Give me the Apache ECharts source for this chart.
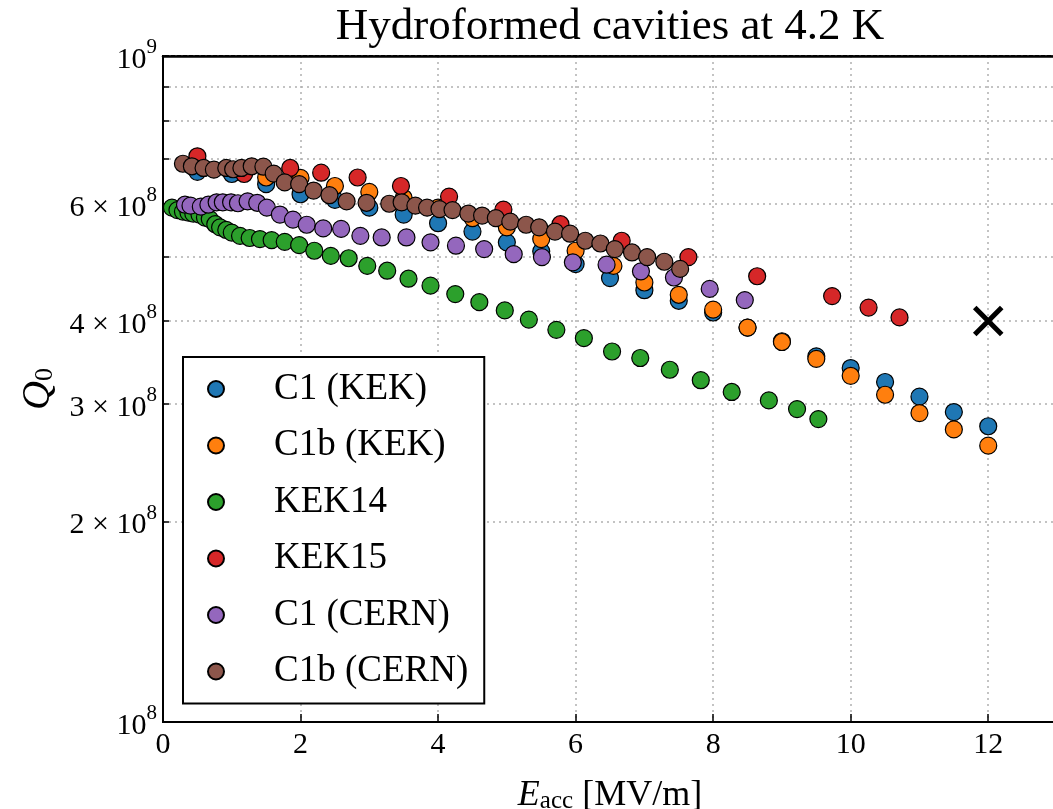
<!DOCTYPE html>
<html>
<head>
<meta charset="utf-8">
<script src="https://cdn.jsdelivr.net/npm/echarts@6/dist/echarts.min.js"></script>
<style>
  html, body { margin: 0; padding: 0; background: #fff; }
  #chart { width: 1053px; height: 809px; }
</style>
</head>
<body>
<div id="chart"></div>
<script>
// Q0 values are given in units of 1e8.
const c1KekE  = [0.5, 1.0, 1.5, 2.0, 2.5, 3.0, 3.5, 4.0, 4.5, 5.0, 5.5, 6.0, 6.5, 7.0, 7.5, 8.0, 8.5, 9.0, 9.5, 10.0, 10.5, 11.0, 11.5, 12.0];
const c1KekQ  = [6.70, 6.65, 6.42, 6.20, 6.08, 5.92, 5.78, 5.61, 5.45, 5.25, 5.09, 4.87, 4.64, 4.45, 4.29, 4.12, 3.91, 3.73, 3.54, 3.40, 3.24, 3.08, 2.92, 2.78];

const c1bKekE = [1.5, 2.0, 2.5, 3.0, 3.5, 4.0, 4.5, 5.0, 5.5, 6.0, 6.55, 7.0, 7.5, 8.0, 8.5, 9.0, 9.5, 10.0, 10.5, 11.0, 11.5, 12.0];
const c1bKekQ = [6.57, 6.56, 6.38, 6.25, 6.12, 5.92, 5.71, 5.53, 5.31, 5.10, 4.84, 4.57, 4.38, 4.16, 3.91, 3.72, 3.51, 3.31, 3.10, 2.91, 2.75, 2.60];

const kek14E  = [0.13, 0.21, 0.29, 0.37, 0.44, 0.53, 0.61, 0.68, 0.76, 0.83, 0.92, 1.00, 1.12, 1.26, 1.41, 1.58, 1.77, 1.98, 2.20, 2.44, 2.70, 2.97, 3.26, 3.57, 3.89, 4.25, 4.60, 4.97, 5.32, 5.72, 6.12, 6.53, 6.94, 7.37, 7.82, 8.27, 8.81, 9.22, 9.53];
const kek14Q  = [5.92, 5.87, 5.84, 5.82, 5.80, 5.78, 5.72, 5.69, 5.59, 5.53, 5.48, 5.43, 5.37, 5.33, 5.31, 5.29, 5.26, 5.20, 5.10, 5.01, 4.97, 4.84, 4.76, 4.63, 4.52, 4.39, 4.27, 4.15, 4.02, 3.88, 3.77, 3.60, 3.52, 3.38, 3.26, 3.13, 3.04, 2.95, 2.85];

const kek15E  = [0.50, 1.18, 1.85, 2.30, 2.83, 3.46, 4.16, 4.95, 5.78, 6.67, 7.64, 8.64, 9.73, 10.26, 10.71];
const kek15Q  = [7.07, 6.65, 6.79, 6.68, 6.57, 6.38, 6.15, 5.88, 5.59, 5.28, 4.99, 4.67, 4.36, 4.19, 4.05];

const c1CernE = [0.32, 0.40, 0.55, 0.66, 0.78, 0.87, 0.99, 1.09, 1.23, 1.37, 1.51, 1.70, 1.89, 2.09, 2.33, 2.59, 2.87, 3.18, 3.54, 3.89, 4.26, 4.67, 5.10, 5.51, 5.96, 6.45, 6.95, 7.43, 7.95, 8.46];
const c1CernQ = [5.98, 5.96, 5.94, 5.98, 6.03, 6.03, 6.03, 6.01, 6.05, 6.02, 5.92, 5.78, 5.68, 5.58, 5.51, 5.50, 5.37, 5.34, 5.34, 5.25, 5.19, 5.13, 5.04, 4.99, 4.90, 4.86, 4.75, 4.65, 4.47, 4.30];

const c1bCernE = [0.29, 0.42, 0.59, 0.74, 0.92, 1.02, 1.14, 1.29, 1.46, 1.61, 1.77, 1.98, 2.19, 2.42, 2.67, 2.96, 3.29, 3.47, 3.67, 3.84, 4.02, 4.21, 4.44, 4.64, 4.84, 5.05, 5.28, 5.47, 5.70, 5.92, 6.14, 6.36, 6.57, 6.82, 7.04, 7.29, 7.52];
const c1bCernQ = [6.89, 6.83, 6.79, 6.75, 6.79, 6.76, 6.79, 6.83, 6.82, 6.66, 6.46, 6.42, 6.28, 6.18, 6.05, 6.02, 6.00, 6.03, 5.96, 5.92, 5.89, 5.87, 5.80, 5.76, 5.71, 5.64, 5.58, 5.53, 5.45, 5.41, 5.28, 5.23, 5.13, 5.07, 4.99, 4.91, 4.79];

// Design target point (black cross)
const targetE = [12];
const targetQ = [4.0];

const seriesNames  = ['C1 (KEK)', 'C1b (KEK)', 'KEK14', 'KEK15', 'C1 (CERN)', 'C1b (CERN)'];
const seriesColors = ['#1f77b4', '#ff7f0e', '#2ca02c', '#d62728', '#9467bd', '#8c564b'];
const seriesE = [c1KekE, c1bKekE, kek14E, kek15E, c1CernE, c1bCernE];
const seriesQ = [c1KekQ, c1bKekQ, kek14Q, kek15Q, c1CernQ, c1bCernQ];

// Log-axis ticks (mantissa x 1e8)
const yTickMantissa  = [1, 2, 3, 4, 5, 6, 7, 8, 9, 10];
const yLabelMantissa = [1, 2, 3, 4, 6, 10];
const yGridMantissa  = [2, 3, 4, 5, 6, 7, 8, 9];

const SCALE = 1e8;
const FONT = '"Liberation Serif", "DejaVu Serif", serif';

function pairs(E, Q) {
  return E.map((e, i) => [e, Q[i] * SCALE]);
}

function yLabel(v) {
  const m = Math.round(v / SCALE);
  if (m === 1) return '{b|10}{sup|8}';
  if (m === 10) return '{b|10}{sup|9}';
  return '{b|' + m + ' \u00d7 10}{sup|8}';
}

const gridLine = { color: '#b0b0b0', width: 1.5, type: [2, 4] };

const series = seriesNames.map((name, k) => ({
  name: name,
  type: 'scatter',
  data: pairs(seriesE[k], seriesQ[k]),
  symbol: 'circle',
  symbolSize: 17,
  itemStyle: { color: seriesColors[k], borderColor: '#000', borderWidth: 1.2, opacity: 1 },
  emphasis: { disabled: true }
}));

series.push({
  name: 'target',
  type: 'scatter',
  data: pairs(targetE, targetQ),
  symbol: 'path://M0,0L10,10M10,0L0,10',
  symbolSize: 27,
  itemStyle: { color: 'transparent', borderColor: '#000', borderWidth: 5, opacity: 1 },
  emphasis: { disabled: true },
  z: 5
});

const chart = echarts.init(document.getElementById('chart'), null, { renderer: 'canvas' });

chart.setOption({
  animation: false,
  backgroundColor: '#fff',
  textStyle: { fontFamily: FONT },
  graphic: [{
    type: 'text',
    x: 610,
    y: 27,
    style: {
      text: 'Hydroformed cavities at 4.2 K',
      fontSize: 45,
      fontFamily: FONT,
      fill: '#000',
      align: 'center',
      verticalAlign: 'middle'
    }
  }],
  grid: {
    left: 163, top: 56, right: -4, bottom: 87,
    show: true, borderColor: '#000', borderWidth: 2,
    outerBoundsMode: 'none'
  },
  xAxis: [{
    type: 'value',
    min: 0, max: 13, interval: 2,
    axisLine: { show: true, lineStyle: { color: '#000', width: 2 } },
    axisTick: { show: true, inside: true, length: 8, lineStyle: { color: '#000', width: 1.5 } },
    axisLabel: { fontSize: 30, fontFamily: FONT, color: '#000', margin: 8, showMaxLabel: false },
    splitLine: { show: true, lineStyle: gridLine },
    name: '{e|E}{a|acc}{u| [MV/m]}',
    nameLocation: 'middle',
    nameGap: 50,
    nameMoveOverlap: false,
    nameTextStyle: {
      rich: {
        e: { fontSize: 36, fontStyle: 'italic', fontFamily: FONT, color: '#000', lineHeight: 42, verticalAlign: 'bottom' },
        a: { fontSize: 25, fontFamily: FONT, color: '#000', lineHeight: 31, verticalAlign: 'bottom' },
        u: { fontSize: 36, fontFamily: FONT, color: '#000', lineHeight: 42, verticalAlign: 'bottom' }
      }
    }
  }, {
    // top frame edge
    type: 'value',
    position: 'top',
    min: 0, max: 13,
    axisLine: { show: true, onZero: false, lineStyle: { color: '#000', width: 2.5 } },
    axisTick: { show: false },
    axisLabel: { show: false },
    splitLine: { show: false },
    z: 10
  }],
  yAxis: {
    type: 'log',
    logBase: 10,
    min: 1e8, max: 1e9,
    axisLine: { show: true, lineStyle: { color: '#000', width: 2 } },
    axisTick: {
      show: true, inside: true, length: 6,
      customValues: yTickMantissa.map(m => m * SCALE),
      lineStyle: { color: '#000', width: 1.5 }
    },
    axisLabel: {
      customValues: yLabelMantissa.map(m => m * SCALE),
      formatter: yLabel,
      margin: 6,
      rich: {
        b: { fontSize: 30, fontFamily: FONT, color: '#000', lineHeight: 38, verticalAlign: 'bottom' },
        sup: { fontSize: 21, fontFamily: FONT, color: '#000', lineHeight: 24, verticalAlign: 'top' }
      }
    },
    splitLine: {
      show: true,
      customValues: yGridMantissa.map(m => m * SCALE),
      lineStyle: gridLine
    },
    minorTick: { show: false },
    minorSplitLine: { show: false },
    name: '{q|Q}{s|0}',
    nameLocation: 'middle',
    nameRotate: 90,
    nameGap: 105,
    nameMoveOverlap: false,
    nameTextStyle: {
      rich: {
        q: { fontSize: 40, fontStyle: 'italic', fontFamily: FONT, color: '#000', lineHeight: 44, verticalAlign: 'bottom' },
        s: { fontSize: 26, fontFamily: FONT, color: '#000', lineHeight: 26, verticalAlign: 'bottom' }
      }
    }
  },
  legend: {
    data: seriesNames,
    orient: 'vertical',
    left: 183,
    top: 357,
    icon: 'circle',
    itemWidth: 16,
    itemHeight: 16,
    itemGap: 16.5,
    padding: [12, 16, 12, 24],
    borderColor: '#000',
    borderWidth: 2,
    borderRadius: 0,
    backgroundColor: '#fff',
    selectedMode: false,
    textStyle: { fontSize: 37, fontFamily: FONT, color: '#000', lineHeight: 40, padding: [0, 0, 0, 45] }
  },
  tooltip: { show: false },
  series: series
});
</script>
</body>
</html>
